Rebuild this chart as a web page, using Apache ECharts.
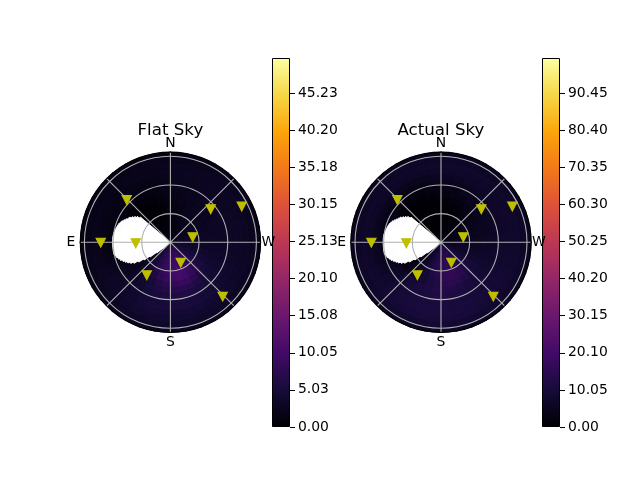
<!DOCTYPE html>
<html><head><meta charset="utf-8">
<style>html,body{margin:0;padding:0;background:#fff}#c{width:640px;height:480px}</style>
<script src="https://cdn.jsdelivr.net/npm/echarts@6/dist/echarts.min.js"></script>
</head><body><div id="c"></div>
<script>
const n = null;
const compassLabels = ['N','','E','','S','','W',''];
const zenithTicks = [30,60,90];
const flatTicks = [0,5.03,10.05,15.08,20.1,25.13,30.15,35.18,40.2,45.23];
const actualTicks = [0,10.05,20.1,30.15,40.2,50.25,60.3,70.35,80.4,90.45];
const flatMax = 50, actualMax = 100;
const markerZenith = [63.6,54.5,83.5,23.9,72.9,36.3,23.9,42.5,78.9];
const markerAzimuth = [45.9,309.3,296.6,282.6,90.3,91.7,206.9,144.4,223.9];
// white (no data) region: start azimuth of each 2 degree slice, and its zenith extent
const holeAzimuth = [50,52,54,56,58,60,62,64,66,68,70,72,74,76,78,80,82,84,86,88,90,92,94,96,98,100,102,104,106,108,110,112,114,116,118,120,122,124,126,128];
const holeZenith = [41,44,46,48,50,51,52.5,54,55.5,56.5,57.5,58,58.5,59,59.5,60,60.3,60.5,60.5,60.5,60.5,60.5,60.5,60.5,60.5,60.5,59.5,58.5,57,55.5,53.5,51.5,49.5,47,44,39,33,26,18,10];
const inferno = ['#000004','#160b39','#420a68','#6a176e','#932667','#bc3754','#dd513a','#f37819','#fca50a','#f6d746','#fcffa4'];
// rows: zenith rings 6 degrees wide; columns: azimuth cells 10 degrees wide from north
const flatSky = [
[2.2,2.2,2.2,2.4,2.6,n,n,n,n,n,n,n,n,4,4.6,5,5.6,6,6.4,6.6,6.6,6.4,6,5.6,5,4.6,4.2,3.8,3.5,3.2,3,2.8,2.6,2.4,2.3,2.2],
[1.6,1.5,1.4,1.4,1.6,n,n,n,n,n,n,n,3,3.8,5,5.8,6.5,7,7.4,7.6,7.6,7.2,6.6,5.8,5,4.4,4,3.6,3.2,3,2.7,2.5,2.2,2,1.8,1.7],
[1.2,1,.9,.9,1.2,n,n,n,n,n,n,n,2.8,3.6,5,6.2,7.2,8,8.5,8.7,8.6,8,7,6,5,4.4,3.8,3.4,3.1,2.8,2.6,2.4,2.1,1.8,1.5,1.3],
[1,.7,.5,.5,.8,n,n,n,n,n,n,n,2.6,3.4,5,6.5,7.8,8.8,9.4,9.6,9.4,8.6,7.4,6.2,5,4.2,3.6,3.2,3,2.8,2.6,2.3,2.1,1.8,1.4,1.2],
[.9,.6,.3,.3,.6,n,n,n,n,n,n,n,2.4,3.3,4.9,6.6,8,9.2,9.9,10.1,9.8,8.8,7.4,6,4.8,4,3.5,3.1,2.9,2.8,2.6,2.4,2.2,2,1.6,1.2],
[.9,.6,.3,.2,.4,n,n,n,n,n,n,n,2.2,3.2,4.7,6.4,7.9,9.1,9.9,10.3,10,8.9,7.4,6,4.8,4,3.5,3.1,3,2.8,2.7,2.6,2.4,2.1,1.7,1.3],
[1,.7,.3,.2,.3,n,n,n,n,n,n,1.2,2.2,3.2,4.6,6,7.5,8.7,9.6,10.2,9.8,8.6,7,5.6,4.6,3.9,3.4,3.1,3,2.9,2.8,2.6,2.4,2.2,1.8,1.4],
[1.2,.9,.5,.3,.3,.5,n,n,n,n,n,1.2,2.4,3.2,4.2,5.2,6.4,7.4,8.3,8.8,8.4,7.2,5.8,4.8,4.2,3.7,3.4,3.2,3,3,2.8,2.7,2.5,2.3,2,1.6],
[1.5,1.2,.8,.6,.5,.7,1,n,n,n,1.2,1.8,2.6,3.3,4.1,5,5.8,6.4,7,7.3,6.9,6,5.2,4.5,4,3.7,3.4,3.2,3.1,3,2.9,2.8,2.6,2.4,2.2,1.9],
[1.8,1.5,1.2,1,.9,1,1.2,1.1,1,1,1.3,2,2.8,3.5,4.1,4.8,5.3,5.7,6,6.1,5.8,5.4,4.9,4.4,4.2,3.7,3.4,3.2,3.1,3.1,3,2.9,2.7,2.5,2.3,2.1],
[2,1.8,1.6,1.4,1.3,1.3,1.4,1.3,1.2,1.2,1.6,2.2,3,3.5,4.1,4.6,4.9,5.1,5.3,5.3,5.1,4.8,4.5,4.2,4,3.6,3.4,3.2,3.1,3.1,3,2.9,2.8,2.6,2.5,2.3],
[2.2,2,1.9,1.7,1.6,1.6,1.6,1.6,1.6,1.7,2,2.5,3.1,3.6,4.2,4.7,5,5.2,5.3,5.3,5.1,4.8,4.5,4.1,3.8,3.5,3.3,3.2,3.1,3.1,3,3,2.9,2.7,2.6,2.4],
[2.4,2.2,2.1,2,1.9,1.9,1.9,1.9,2,2.1,2.3,2.7,3.1,3.6,4,4.4,4.6,4.7,4.7,4.7,4.6,4.4,4.1,3.8,3.6,3.4,3.3,3.1,3.1,3,3,3,2.9,2.8,2.7,2.5],
[2.4,2.3,2.2,2.1,2,2,2,2,2.1,2.2,2.4,2.7,3,3.4,3.7,4,4.2,4.2,4.2,4.2,4.1,3.9,3.7,3.5,3.3,3.2,3.1,3,3,2.9,2.9,2.9,2.8,2.7,2.6,2.5],
[2.2,2.1,2,1.9,1.9,1.9,1.9,1.9,1.9,2,2.2,2.4,2.6,2.9,3.2,3.4,3.6,3.6,3.6,3.6,3.5,3.3,3.2,3,2.9,2.8,2.7,2.6,2.6,2.6,2.6,2.6,2.5,2.4,2.3,2.2],
[1.7,1.7,1.6,1.5,1.5,1.5,1.5,1.5,1.5,1.6,1.7,1.8,2,2.2,2.4,2.5,2.6,2.6,2.6,2.6,2.5,2.4,2.3,2.2,2.1,2,2,2,2,2,2,1.9,1.9,1.8,1.8,1.7]
];
const actualSky = [
[1.5,1.5,1.5,1.5,2,n,n,n,n,n,n,n,n,5,6,7,8,9,10,10.5,11,11,10.5,10,9,8,7,6,5,4.5,4,3.5,3,2.5,2,1.7],
[1,1,1,1,1.5,n,n,n,n,n,n,n,3.5,5,6.5,8,9.5,11,12,12.5,12.5,12,11,9.5,8,6.8,5.6,4.6,4,3.4,3,2.5,2,1.6,1.2,1],
[.6,.5,.5,.5,1,n,n,n,n,n,n,n,3,4.8,6.8,8.8,10.5,12.2,13.4,14,14,13.2,11.6,9.8,8,6.6,5.4,4.5,4,3.5,3,2.4,1.8,1.2,.8,.7],
[.4,.3,.3,.3,.6,n,n,n,n,n,n,n,2.6,4.6,6.8,9.2,11.2,13,14.5,15.2,15,13.8,12,10,8.2,6.8,5.6,4.7,4.2,3.8,3.2,2.5,1.8,1.2,.6,.5],
[.3,.2,.1,.1,.3,n,n,n,n,n,n,n,2.2,4.4,6.8,9.4,11.6,13.6,15.2,16,15.6,14.2,12.2,10.2,8.4,7,5.8,5,4.4,4,3.4,2.6,1.9,1.2,.6,.4],
[.3,.2,.1,.1,.2,n,n,n,n,n,n,n,2,4.2,6.8,9.4,11.8,13.8,15.6,16.4,15.8,14.4,12.4,10.4,8.6,7.2,6,5.2,4.6,4.2,3.6,2.8,2,1.3,.7,.4],
[.5,.3,.2,.1,.2,n,n,n,n,n,n,1.4,2.2,4.2,6.6,9,11.2,13.2,15.2,16.2,15.6,13.8,11.8,9.8,8.2,7,6,5.4,5,4.6,4,3.2,2.4,1.6,1,.6],
[1,.7,.4,.3,.4,1,n,n,n,n,n,2,3,4.8,7,9,10.8,12.6,14,14.6,14,12.6,11,9.6,8.4,7.4,6.6,6,5.4,5,4.4,3.8,3,2.2,1.6,1.2],
[2,1.5,1,.8,1,1.5,2,n,n,n,3,4,5.6,7.6,9.2,10.6,11.8,12.8,13.2,12.8,11.8,10.6,9.6,8.8,8,7.4,6.8,6.2,5.8,5.4,5,4.6,4.2,3.8,3.4,3],
[3,2.6,2.2,2,2,2.4,3,3,3,3,4,5.2,6.8,8.4,9.6,10.6,11.4,11.8,12,11.8,11.2,10.4,9.6,9,8.2,7.6,7,6.6,6.2,5.8,5.4,5,4.6,4.2,3.8,3.4],
[4.2,3.8,3.4,3.2,3.2,3.4,3.8,3.8,3.6,3.8,4.8,6,7.4,8.6,9.6,10.4,10.8,11,11,10.8,10.4,10,9.4,8.9,8.6,8,7.6,7.2,6.8,6.6,6.4,6,5.6,5.2,4.8,4.4],
[5.6,5.2,4.8,4.6,4.6,4.8,5,5,5,5.4,5.8,6.6,7.8,9,10,10.6,11,11,11,10.8,10.6,10.2,9.8,9.2,8.6,8.2,7.8,7.6,7.4,7.2,7,6.8,6.6,6.4,6,5.8],
[7,6.6,6.4,6.2,6.2,6.2,6.4,6.4,6.6,6.8,7,7.6,8.2,9,9.8,10.4,10.8,11,11,10.8,10.4,10,9.4,9,8.6,8.2,8,7.8,7.6,7.6,7.4,7.4,7.4,7.2,7.2,7],
[7.6,7.4,7.2,7,7,7,7.2,7.2,7.4,7.4,7.6,8,8.4,8.8,9.4,9.8,10,10.2,10.2,10,9.8,9.4,9,8.6,8.4,8.2,8,7.8,7.8,7.6,7.6,7.6,7.6,7.6,7.6,7.6],
[7,6.8,6.6,6.4,6.4,6.4,6.4,6.4,6.6,6.8,7,7.2,7.4,7.8,8.2,8.4,8.6,8.6,8.6,8.6,8.4,8.2,7.8,7.4,7.2,7,6.8,6.8,6.8,6.8,6.8,6.8,6.8,6.8,6.8,7],
[5,5,4.8,4.8,4.8,4.8,4.8,4.8,4.8,5,5,5.2,5.4,5.6,5.8,6,6,6,6,6,5.8,5.6,5.6,5.4,5.2,5.2,5.2,5,5,5,5,5,5,5,5,5]
];

const RING = 6, CELL = 10, RMAX = 94.2;
const FONT = '"DejaVu Sans"';
function cells(field){
  const out = [];
  field.forEach((row,i)=>row.forEach((v,j)=>{
    if(v!==null) out.push([i*RING, Math.min((i+1)*RING,RMAX), j*CELL, (j+1)*CELL, v]);
  }));
  return out;
}
function sector(params, api, r0v, r1v, a0, a1, color, lw){
  const cs = params.coordSys;
  const p0 = api.coord([r0v, a0]), p1 = api.coord([r1v, a0]);
  const r0 = Math.hypot(p0[0]-cs.cx, p0[1]-cs.cy), r = Math.hypot(p1[0]-cs.cx, p1[1]-cs.cy);
  const rad = Math.PI/180;
  return {type:'sector', shape:{cx:cs.cx, cy:cs.cy, r0:r0, r:r, startAngle:-(90+a1)*rad, endAngle:-(90+a0)*rad, clockwise:true},
    style:{fill:color, stroke:color, lineWidth:lw}};
}
const gradient = new echarts.graphic.LinearGradient(0,1,0,0, inferno.map((c,i)=>({offset:i/(inferno.length-1), color:c})));
const polars = [{center:[170.4,242.3],radius:90},{center:[441,242.3],radius:90}];
const titles = ['Flat Sky','Actual Sky'];
const fields = [flatSky, actualSky], maxes = [flatMax, actualMax], ticks = [flatTicks, actualTicks];
const barLeft = [272,542];
const compassStyle = {fontFamily:FONT,fontSize:13.9,color:'#000'};
const series = [], visualMap = [], angleAxis = [], radiusAxis = [], grid = [], xAxis = [], yAxis = [], title = [];
polars.forEach((pl,k)=>{
  title.push({text:titles[k], left:pl.center[0]-5, top:117, textAlign:'center', textStyle:{fontFamily:FONT,fontSize:16.67,fontWeight:'normal',color:'#000'}});
  angleAxis.push({polarIndex:k,type:'value',min:0,max:360,interval:45,startAngle:90,clockwise:false,z:4,
    axisLine:{show:true,lineStyle:{color:'#000',width:1}},axisTick:{show:false},
    splitLine:{show:true,lineStyle:{color:'#b0b0b0',width:1.1}},
    axisLabel:{show:true,color:'#000',fontFamily:FONT,fontSize:13.9,margin:1,
      formatter:v=>{const t=compassLabels[Math.round(v/45)%8];return t?'{'+t+'|'+t+'}':'';},
      rich:{N:{...compassStyle,padding:[0,0,1,0]},S:{...compassStyle,padding:[2,0,0,0]},E:{...compassStyle,padding:[0,4,0,0]},W:{...compassStyle}}}});
  radiusAxis.push({polarIndex:k,type:'value',min:0,max:RMAX,z:3,
    axisLine:{show:false},axisLabel:{show:false},axisTick:{show:false,customValues:zenithTicks},
    splitLine:{show:true,lineStyle:{color:'#b0b0b0',width:1.1}}});
  series.push({type:'custom',coordinateSystem:'polar',polarIndex:k,z:1,silent:true,animation:false,
    data:cells(fields[k]),dimensions:['r0','r1','a0','a1','value'],encode:{radius:0,angle:2},
    renderItem:(p,api)=>sector(p,api,api.value(0),api.value(1),api.value(2),api.value(3),api.visual('color'),1.4)});
  visualMap.push({show:false,type:'continuous',seriesIndex:series.length-1,dimension:4,min:0,max:maxes[k],inRange:{color:inferno}});
  series.push({type:'custom',coordinateSystem:'polar',polarIndex:k,z:2,silent:true,animation:false,
    data:holeAzimuth.map((a,i)=>[holeZenith[i],a]),encode:{radius:0,angle:1},
    renderItem:(p,api)=>sector(p,api,0,api.value(0),api.value(1),api.value(1)+2,'#ffffff',1)});
  series.push({type:'scatter',coordinateSystem:'polar',polarIndex:k,z:6,silent:true,animation:false,
    data:markerZenith.map((z,i)=>[z,markerAzimuth[i]]),symbol:'triangle',symbolRotate:180,symbolSize:[9.5,9],
    itemStyle:{color:'#bfbf00',borderColor:'#bfbf00',borderWidth:1,opacity:1}});
  grid.push({left:barLeft[k],top:58,width:18,height:369,containLabel:false});
  xAxis.push({gridIndex:k,type:'category',data:['c'],show:false});
  yAxis.push({gridIndex:k,type:'value',position:'right',min:0,max:maxes[k],z:4,splitLine:{show:false},
    axisLine:{show:false},
    axisTick:{show:true,length:5,inside:false,lineStyle:{color:'#000',width:1},customValues:ticks[k]},
    axisLabel:{show:true,color:'#000',fontFamily:FONT,fontSize:13.9,margin:8,padding:[4,0,0,0],customValues:ticks[k],formatter:v=>v.toFixed(2)}});
  series.push({type:'bar',xAxisIndex:k,yAxisIndex:k,data:[maxes[k]],barWidth:'100%',silent:true,animation:false,z:2,
    itemStyle:{color:gradient,borderColor:'#000',borderWidth:1}});
});
const chart = echarts.init(document.getElementById('c'),null,{renderer:'canvas',width:640,height:480});
chart.setOption({animation:false,backgroundColor:'#fff',title,polar:polars,angleAxis,radiusAxis,grid,xAxis,yAxis,visualMap,series});
</script></body></html>
